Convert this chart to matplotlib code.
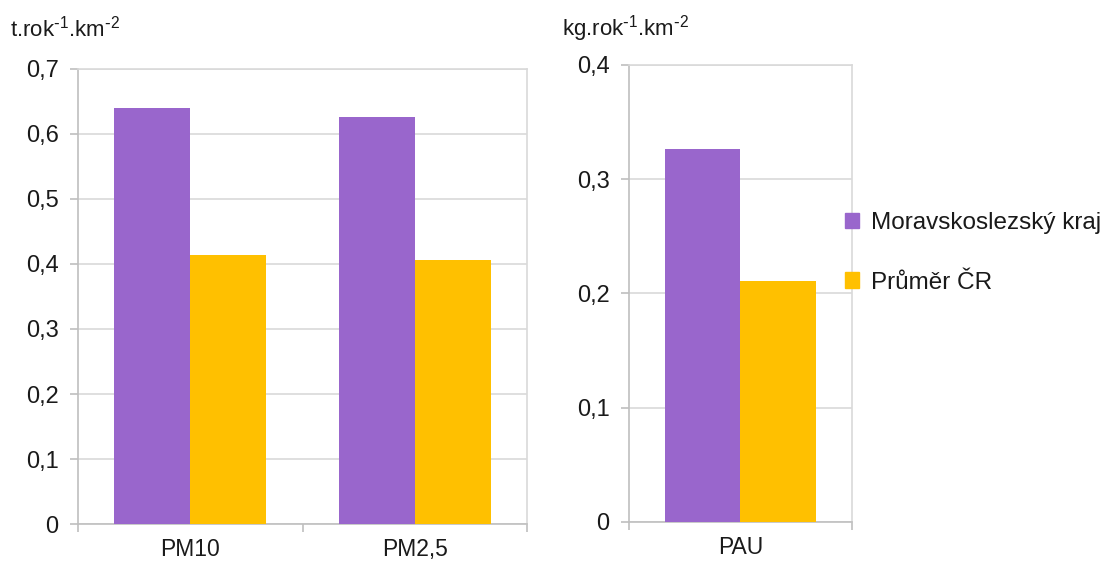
import matplotlib
matplotlib.use("Agg")
import matplotlib.pyplot as plt
from matplotlib.patches import Patch
import numpy as np

plt.rcParams['font.family'] = ['Liberation Sans', 'DejaVu Sans']
plt.rcParams['mathtext.default'] = 'regular'

# emission densities per area
series_names = ['Moravskoslezský kraj', 'Průměr ČR']
pm_categories = ['PM10', 'PM2,5']
pm_msk = [0.640, 0.626]
pm_cr = [0.414, 0.406]
pau_categories = ['PAU']
pau_msk = [0.3265]
pau_cr = [0.211]

purple = '#9966CC'
orange = '#FFC000'
grid_col = '#D9D9D9'
axis_col = '#BFBFBF'
text_col = '#1A1A1A'


def draw_panel(ax, cats, v1, v2, ymax, step):
    x = np.arange(len(cats))
    w = 0.338
    ax.bar(x - w / 2, v1, w, color=purple, zorder=3)
    ax.bar(x + w / 2, v2, w, color=orange, zorder=3)
    ax.set_xlim(-0.5, len(cats) - 0.5)
    ax.set_ylim(0, ymax)
    yt = np.arange(0, ymax + step / 2, step)
    ax.set_yticks(yt)
    ax.set_yticklabels([('%.1f' % v).replace('.', ',') if v > 0 else '0' for v in yt])
    ax.yaxis.grid(True, color=grid_col, linewidth=1.2, zorder=0)
    ax.set_xticks(x)
    ax.set_xticklabels(cats)
    ax.set_xticks(np.arange(len(cats) + 1) - 0.5, minor=True)
    ax.tick_params(axis='x', which='major', length=0, pad=10, labelsize=16.5, labelcolor=text_col)
    ax.tick_params(axis='x', which='minor', length=6, width=1.2, color=axis_col, direction='out')
    ax.tick_params(axis='y', length=6, width=1.2, color=axis_col, pad=8, labelsize=17, labelcolor=text_col)
    for s in ax.spines.values():
        s.set_color(axis_col)
        s.set_linewidth(1.2)
    ax.spines['top'].set_color(grid_col)
    ax.spines['right'].set_color(grid_col)


fig = plt.figure(figsize=(11.15, 5.64), dpi=100)
ax1 = fig.add_axes([0.070, 0.0709, 0.403, 0.8068])
ax2 = fig.add_axes([0.564, 0.0745, 0.200, 0.8103])

draw_panel(ax1, pm_categories, pm_msk, pm_cr, 0.7, 0.1)
draw_panel(ax2, pau_categories, pau_msk, pau_cr, 0.4, 0.1)

unit = '.rok$^{\\text{-}1}$.km$^{\\text{-}2}$'
fig.text(0.009, 0.949, 't' + unit, fontsize=16, color=text_col, va='center')
fig.text(0.504, 0.949, 'kg' + unit, fontsize=16, color=text_col, va='center')

handles = [Patch(color=purple), Patch(color=orange)]
fig.legend(handles, series_names, loc='center left', bbox_to_anchor=(0.738, 0.552),
           frameon=False, fontsize=17.5, handlelength=0.6, handleheight=0.6,
           handletextpad=0.5, labelspacing=1.55, labelcolor=text_col)

fig.savefig('out.png', dpi=100)
